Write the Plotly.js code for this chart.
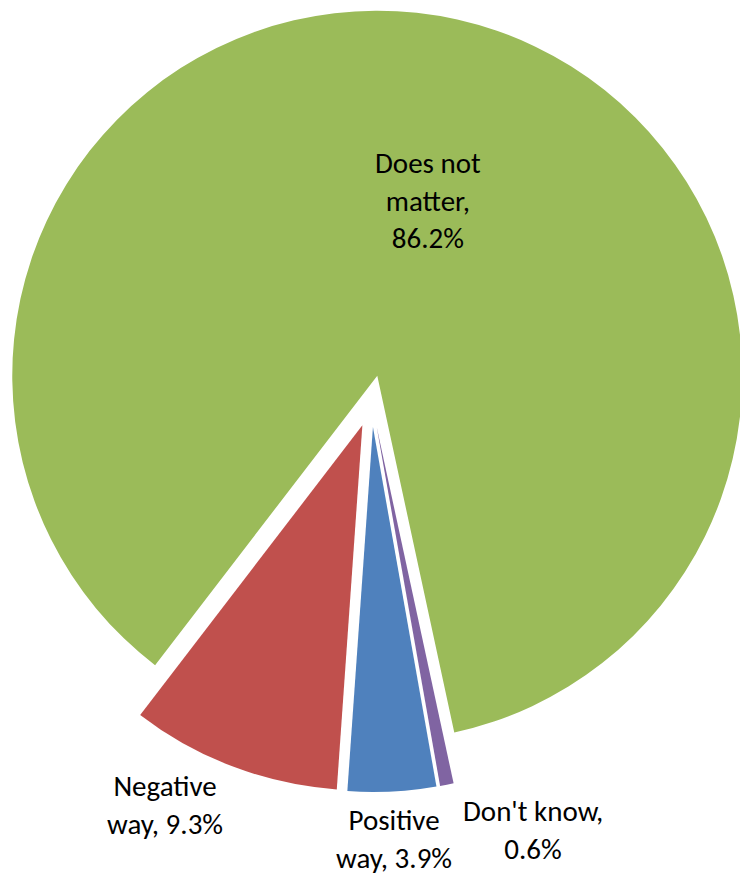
<!DOCTYPE html>
<html>
<head>
<meta charset="utf-8">
<script src="https://cdn.plot.ly/plotly-3.0.1.min.js"></script>
<style>
html,body{margin:0;padding:0;background:#fff;overflow:hidden;width:740px;height:876px;}
#wrap{position:absolute;left:0;top:0;width:740px;height:876px;overflow:hidden;}
#chart{position:absolute;left:-30px;top:0;width:900px;height:876px;}
</style>
</head>
<body>
<div id="wrap"><div id="chart"></div></div>
<script>
// Data (order drawn clockwise starting from the large slice)
var categories = ["Does not matter", "Don't know", "Positive way", "Negative way"];
var values = [86.2, 0.6, 3.9, 9.3];
var labelTexts = ["Does not<br>matter,<br>86.2%", "Don't know,<br>0.6%", "Positive<br>way, 3.9%", "Negative<br>way, 9.3%"];
var colors = ["#9BBB59", "#8064A2", "#4F81BD", "#C0504D"];

var W = 900, H = 876, SHIFT = 30;
// label centres in page pixels
var labelPos = [[428, 200], [533, 830], [394, 839], [165, 805]];

var annotations = labelTexts.map(function (t, i) {
  return {
    text: t,
    xref: "paper", yref: "paper",
    x: (labelPos[i][0] + SHIFT) / W,
    y: 1 - labelPos[i][1] / H,
    xanchor: "center", yanchor: "middle",
    showarrow: false,
    align: "center",
    font: {family: "Carlito, Calibri, Lato, 'Open Sans', sans-serif", size: 29, color: "#000"}
  };
});

var trace = {
  type: "pie",
  labels: categories,
  values: values,
  sort: false,
  direction: "clockwise",
  rotation: -142.5,
  pull: values.map(function () { return 0.0712; }),
  marker: {colors: colors, line: {color: "#ffffff", width: 0}},
  textinfo: "none",
  hoverinfo: "label+percent",
  domain: {x: [0, 0.8924], y: [1 - 792 / H, 1 - 10 / H]}
};

Plotly.newPlot("chart", [trace], {
  width: W, height: H,
  margin: {l: 0, r: 0, t: 0, b: 0, pad: 0},
  showlegend: false,
  paper_bgcolor: "#ffffff",
  annotations: annotations
}, {staticPlot: true});
</script>
</body>
</html>
